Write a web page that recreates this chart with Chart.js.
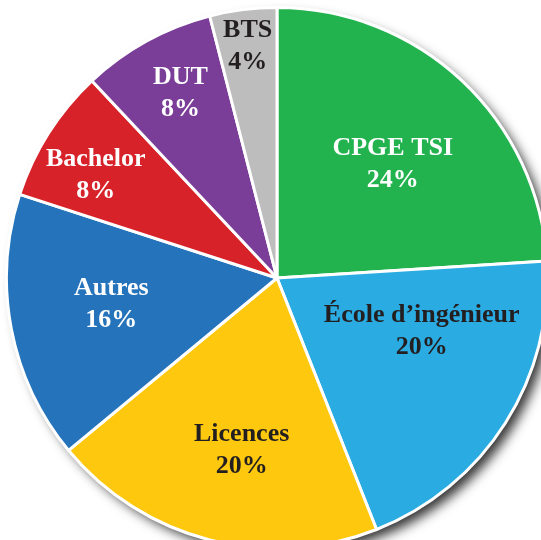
<!DOCTYPE html>
<html>
<head>
<meta charset="utf-8">
<script src="https://cdn.jsdelivr.net/npm/chart.js@4/dist/chart.umd.min.js"></script>
<style>
  html, body { margin: 0; padding: 0; background: #fff; overflow: hidden; }
  #wrap { position: absolute; left: 0; top: 0; width: 556px; height: 556px; }
</style>
</head>
<body>
<div id="wrap"><canvas id="pie"></canvas></div>
<script>
// Data
const categories = ["CPGE TSI", "École d’ingénieur", "Licences", "Autres", "Bachelor", "DUT", "BTS"];
const shares = [24, 20, 20, 16, 8, 8, 4];
const sliceColors = ["#22b34f", "#2aabe2", "#fec80f", "#2473bb", "#d72229", "#7a3d98", "#bdbdbd"];
const textColors = ["#ffffff", "#231f20", "#231f20", "#ffffff", "#ffffff", "#ffffff", "#231f20"];

// label placement: angle nudge (deg) from slice middle, and fraction of radius
const labelNudge = [2.3, -12.2, -2.8, 1.8, -2.9, 1.2, 0];
const labelRadius = [0.60, 0.57, 0.65, 0.62, 0.77, 0.77, 0.865];

// Shadow behind the whole pie
const shadowPlugin = {
    id: "pieShadow",
    beforeDatasetsDraw(chart) {
        const arc = chart.getDatasetMeta(0).data[0];
        if (!arc) return;
        const ctx = chart.ctx;
        ctx.save();
        ctx.shadowColor = "rgba(0,0,0,0.8)";
        ctx.shadowBlur = 12;
        ctx.shadowOffsetX = 7;
        ctx.shadowOffsetY = 7;
        ctx.fillStyle = "#ffffff";
        ctx.beginPath();
        ctx.arc(arc.x, arc.y, arc.outerRadius - 1, 0, Math.PI * 2);
        ctx.fill();
        ctx.restore();
    }
};

// Two-line labels inside the slices
const labelPlugin = {
    id: "sliceLabels",
    afterDatasetsDraw(chart) {
        const ctx = chart.ctx;
        const meta = chart.getDatasetMeta(0);
        ctx.save();
        ctx.font = "bold 26px 'Liberation Serif', 'Times New Roman', serif";
        ctx.textAlign = "center";
        ctx.textBaseline = "middle";
        meta.data.forEach((arc, i) => {
            const mid = (arc.startAngle + arc.endAngle) / 2 + labelNudge[i] * Math.PI / 180;
            const r = arc.outerRadius * labelRadius[i];
            const x = arc.x + Math.cos(mid) * r;
            const y = arc.y + Math.sin(mid) * r;
            ctx.fillStyle = textColors[i];
            ctx.fillText(categories[i], x, y - 16);
            ctx.fillText(shares[i] + "%", x, y + 16);
        });
        ctx.restore();
    }
};

new Chart(document.getElementById("pie"), {
    type: "pie",
    data: {
        labels: categories,
        datasets: [{
            data: shares,
            backgroundColor: sliceColors,
            borderColor: "#ffffff",
            borderWidth: 3
        }]
    },
    options: {
        responsive: true,
        maintainAspectRatio: false,
        animation: false,
        events: [],
        layout: { padding: { left: 5, right: 7, top: 6, bottom: 6 } },
        plugins: {
            legend: { display: false },
            tooltip: { enabled: false }
        }
    },
    plugins: [shadowPlugin, labelPlugin]
});
</script>
</body>
</html>
